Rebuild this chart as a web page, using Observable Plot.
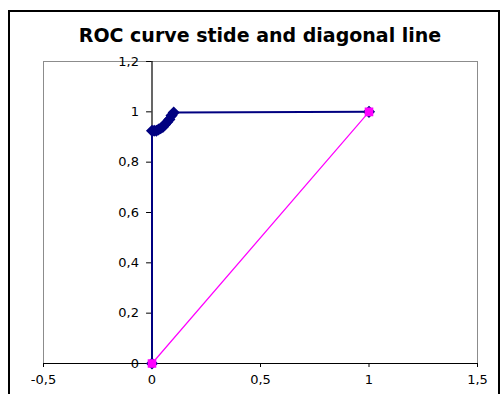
<!DOCTYPE html>
<html>
<head>
<meta charset="utf-8">
<script src="https://cdn.jsdelivr.net/npm/d3@7"></script>
<script src="https://cdn.jsdelivr.net/npm/@observablehq/plot@0.6"></script>
<style>
  html, body { margin: 0; padding: 0; background: #fff; overflow: hidden; }
  #wrap { position: relative; width: 504px; height: 394px; font-family: "DejaVu Sans", sans-serif; }
  #border { position: absolute; left: 8px; top: 10px; width: 492px; height: 400px; border: 2px solid #000; box-sizing: border-box; pointer-events: none; }
  #title { position: absolute; left: 8px; width: 504px; top: 24px; text-align: center; font-weight: bold; font-size: 19px; line-height: 22px; color: #000; }
  #chart { position: absolute; left: 0; top: 48px; }
</style>
</head>
<body>
<div id="wrap">
  <div id="border"></div>
  <div id="title">ROC curve stide and diagonal line</div>
  <div id="chart"></div>
</div>
<script>
// ROC curve points (false positive rate, true positive rate)
const rocFpr = [0, 0, 0.01, 0.02, 0.03, 0.04, 0.05, 0.06, 0.07, 0.08, 0.09, 0.1, 1];
const rocTpr = [0, 0.925, 0.925, 0.925, 0.93, 0.935, 0.94, 0.95, 0.96, 0.97, 0.985, 0.997, 1];
// diagonal reference line
const diagX = [0, 1];
const diagY = [0, 1];
// axis ticks
const xTicks = [-0.5, 0, 0.5, 1, 1.5];
const xTickLabels = ["-0,5", "0", "0,5", "1", "1,5"];
const yTicks = [0, 0.2, 0.4, 0.6, 0.8, 1, 1.2];
const yTickLabels = ["0", "0,2", "0,4", "0,6", "0,8", "1", "1,2"];

const roc = rocFpr.map((x, i) => ({x, y: rocTpr[i]}));
const diag = diagX.map((x, i) => ({x, y: diagY[i]}));
const yt = yTicks.map((v, i) => ({v, label: yTickLabels[i]}));

const plot = Plot.plot({
  width: 504,
  height: 346,
  marginLeft: 43,
  marginRight: 27,
  marginTop: 13,
  marginBottom: 31,
  style: {fontFamily: "DejaVu Sans, sans-serif", fontSize: "13px", color: "#000", background: "transparent"},
  x: {domain: [-0.5, 1.5]},
  y: {domain: [0, 1.2]},
  marks: [
    Plot.frame({stroke: "#8c8c8c"}),
    Plot.axisX({ticks: xTicks, tickFormat: (d) => xTickLabels[xTicks.indexOf(d)], tickSize: 4, tickPadding: 7, label: null, fontSize: 13}),
    Plot.axisY({ticks: [], label: null}),
    Plot.ruleY([0], {stroke: "#000", strokeWidth: 1.2}),
    Plot.ruleX([0], {y1: 0, y2: 1.2, stroke: "#000", strokeWidth: 1.2}),
    Plot.ruleY(yt, {y: "v", x1: -0.025, x2: 0, stroke: "#000"}),
    Plot.text(yt, {y: "v", x: 0, text: "label", dx: -13, textAnchor: "end", fontSize: 13}),
    Plot.line(roc, {x: "x", y: "y", stroke: "#000080", strokeWidth: 2}),
    Plot.dot(roc, {x: "x", y: "y", symbol: "diamond2", r: 4.5, fill: "#000080", stroke: "#000080"}),
    Plot.line(diag, {x: "x", y: "y", stroke: "#ff00ff", strokeWidth: 1.2}),
    Plot.dot(diag, {x: "x", y: "y", symbol: "square", r: 4, fill: "#ff00ff", stroke: "#ff00ff"})
  ]
});
document.getElementById("chart").appendChild(plot);
</script>
</body>
</html>
